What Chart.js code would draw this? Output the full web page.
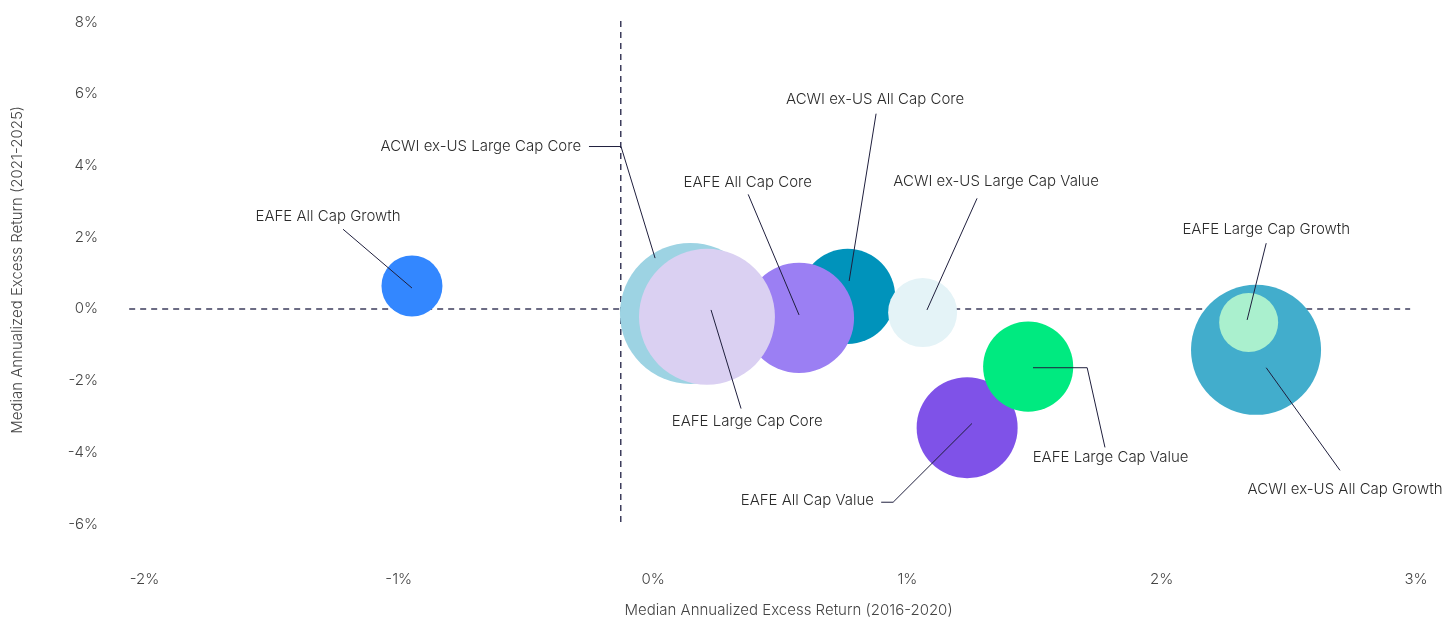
<!DOCTYPE html>
<html>
<head>
<meta charset="utf-8">
<script src="https://cdn.jsdelivr.net/npm/chart.js@4.4.1/dist/chart.umd.min.js"></script>
<style>
    html, body { margin: 0; padding: 0; background: #fff; }
    #wrap { position: relative; width: 1443px; height: 619px; }
</style>
</head>
<body>
<div id="wrap"><canvas id="bubble-chart"></canvas></div>
<script>
(function () {
    "use strict";

    // Datos (orden = orden de dibujo, los últimos quedan encima)
    const strategies = [
        "ACWI ex-US All Cap Core",
        "EAFE All Cap Core",
        "ACWI ex-US Large Cap Core",
        "EAFE Large Cap Core",
        "ACWI ex-US Large Cap Value",
        "EAFE All Cap Value",
        "EAFE Large Cap Value",
        "ACWI ex-US All Cap Growth",
        "EAFE Large Cap Growth",
        "EAFE All Cap Growth",
    ];
    const excess2016 = [0.765, 0.574, 0.147, 0.212, 1.06, 1.235, 1.475, 2.371, 2.342, -0.948];
    const excess2021 = [0.35, -0.25, -0.125, -0.22, -0.10, -3.31, -1.61, -1.14, -0.375, 0.64];
    const sizes = [22.6, 30.3, 49.7, 46.2, 11.9, 25.5, 20.3, 42.3, 8.7, 9.3];
    const xTicks = [-2, -1, 0, 1, 2, 3];
    const yTicks = [-6, -4, -2, 0, 2, 4, 6, 8];
    const medianX = -0.127;

    const colors = [
        "#0093bb", "#9b7ff3", "#9dd3e3", "#dad0f2", "#e4f3f7",
        "#7f52e8", "#00ea80", "#42adcc", "#aaf0ce", "#3387ff",
    ];

    // Etiquetas: posición del texto y trazo de la línea guía (en unidades de datos)
    const callouts = [
        { at: [0.873, 5.833], line: [[0.877, 5.444], [0.771, 0.778]] },
        { at: [0.372, 3.528], line: [[0.374, 3.194], [0.574, -0.167]] },
        { at: [-0.283, 4.528], align: "right", line: [[-0.252, 4.528], [-0.126, 4.528], [0.008, 1.417]] },
        { at: [0.370, -3.139], line: [[0.228, -0.028], [0.346, -2.778]] },
        { at: [1.349, 3.556], line: [[1.274, 3.083], [1.077, -0.028]] },
        { at: [0.869, -5.333], align: "right", line: [[1.254, -3.194], [0.944, -5.389], [0.897, -5.389]] },
        { at: [1.799, -4.139], line: [[1.494, -1.639], [1.707, -1.639], [1.777, -3.861]] },
        { at: [2.721, -5.028], line: [[2.701, -4.5], [2.411, -1.639]] },
        { at: [2.411, 2.222], line: [[2.411, 1.833], [2.336, -0.306]] },
        { at: [-1.278, 2.583], line: [[-1.219, 2.222], [-0.948, 0.583]] },
    ];

    const calloutPlugin = {
        id: "callouts",
        afterDatasetsDraw(chart) {
            const { ctx, scales: { x, y } } = chart;
            ctx.save();
            ctx.strokeStyle = "#1f1f3d";
            ctx.lineWidth = 1;
            ctx.fillStyle = "#2b2b2b";
            ctx.font = "300 15px Inter";
            ctx.textBaseline = "middle";
            callouts.forEach((c, i) => {
                ctx.beginPath();
                c.line.forEach(([vx, vy], j) => {
                    const px = x.getPixelForValue(vx);
                    const py = y.getPixelForValue(vy);
                    if (j) ctx.lineTo(px, py); else ctx.moveTo(px, py);
                });
                ctx.stroke();
                ctx.textAlign = c.align || "center";
                ctx.fillText(strategies[i], x.getPixelForValue(c.at[0]), y.getPixelForValue(c.at[1]));
            });
            ctx.restore();
        },
    };

    const dashed = {
        type: "line",
        borderColor: "#3d3d5c",
        borderWidth: 1.5,
        borderDash: [6, 5],
        pointRadius: 0,
        fill: false,
        order: 2,
        clip: false,
    };

    const axisFont = { family: "Inter", size: 15, weight: 300 };
    // los títulos van algo desplazados respecto al centro del área
    const pad = " ".repeat(10);

    const ctx = document.getElementById("bubble-chart").getContext("2d");
    new Chart(ctx, {
        type: "bubble",
        data: {
            datasets: [
                {
                    data: strategies.map((s, i) => ({
                        x: excess2016[i],
                        y: excess2021[i],
                        r: Math.sqrt(sizes[i]) * 10,
                    })),
                    backgroundColor: colors,
                    hoverBackgroundColor: colors,
                    borderWidth: 0,
                    hoverBorderWidth: 0,
                    hoverRadius: 0,
                    order: 1,
                },
                { ...dashed, data: [{ x: -2.06, y: 0 }, { x: 2.977, y: 0 }] },
                { ...dashed, data: [{ x: medianX, y: 8.03 }, { x: medianX, y: -6.06 }] },
            ],
        },
        options: {
            responsive: true,
            maintainAspectRatio: false,
            animation: false,
            layout: { autoPadding: false, padding: { top: 10, right: 27, bottom: 0, left: 0 } },
            plugins: {
                legend: { display: false },
                tooltip: { enabled: false },
            },
            scales: {
                x: {
                    type: "linear",
                    min: -2.1,
                    max: 3,
                    grid: { display: false },
                    border: { display: false },
                    afterBuildTicks: (axis) => { axis.ticks = xTicks.map(v => ({ value: v })); },
                    afterFit: (axis) => { axis.height = 59; },
                    ticks: {
                        padding: 2,
                        color: "#444444",
                        font: axisFont,
                        callback: (v) => v + "%",
                    },
                    title: {
                        display: true,
                        text: pad + "Median Annualized Excess Return (2016-2020)",
                        color: "#444444",
                        font: axisFont,
                        padding: { top: 0, bottom: 0 },
                    },
                },
                y: {
                    type: "linear",
                    min: -7,
                    max: 8,
                    grid: { display: false },
                    border: { display: false },
                    afterBuildTicks: (axis) => { axis.ticks = yTicks.map(v => ({ value: v })); },
                    afterFit: (axis) => { axis.width = 119; },
                    ticks: {
                        padding: 13,
                        color: "#444444",
                        font: axisFont,
                        callback: (v) => v + "%",
                    },
                    title: {
                        display: true,
                        text: pad + "Median Annualized Excess Return (2021-2025)",
                        color: "#444444",
                        font: axisFont,
                        padding: { top: 8, bottom: 0 },
                    },
                },
            },
        },
        plugins: [calloutPlugin],
    });
})();
</script>
</body>
</html>
